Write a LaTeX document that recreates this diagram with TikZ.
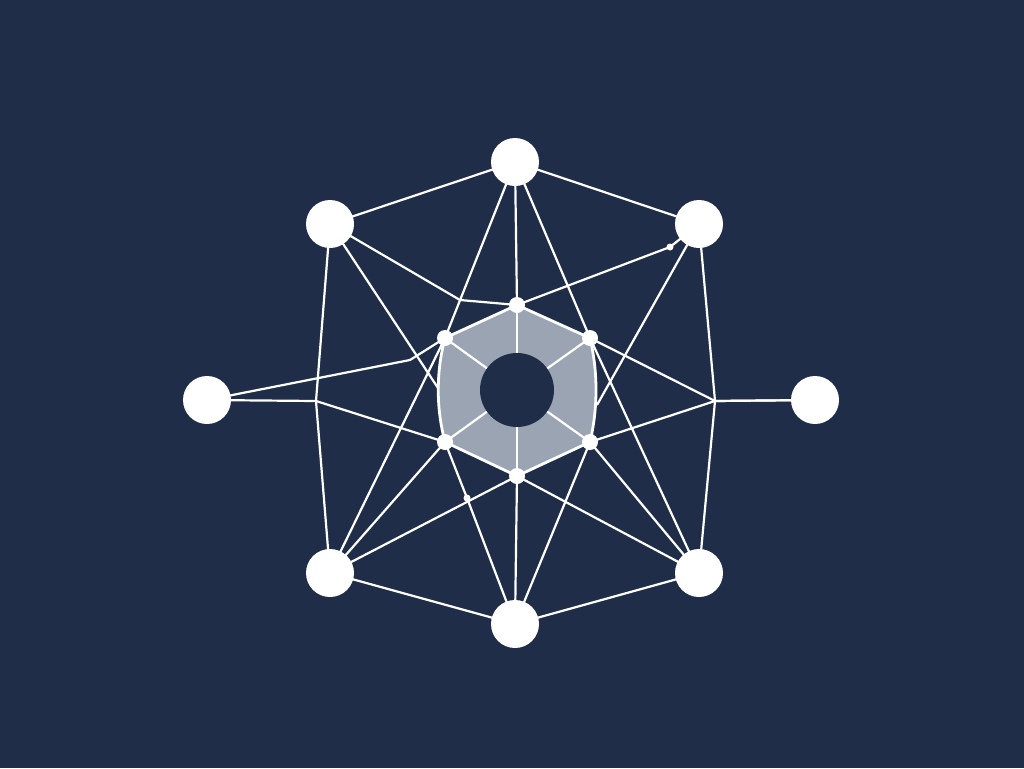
\documentclass[tikz,border=0pt]{standalone}
\begin{document}
\begin{tikzpicture}[x=1pt,y=-1pt,
  edge/.style={draw=white,line width=2.2pt,line join=round},
  outer/.style={circle,fill=white,minimum size=48pt,inner sep=0pt},
  hexdot/.style={circle,fill=white,minimum size=16pt,inner sep=0pt},
  tinydot/.style={circle,fill=white,minimum size=7pt,inner sep=0pt}]
\definecolor{bg}{HTML}{1F2D48}
\definecolor{hexfill}{HTML}{9AA4B2}
\fill[bg] (0,0) rectangle (1024,768);
\useasboundingbox (0,0) rectangle (1024,768);
% coordinates
\coordinate (cT) at (515,162);
\coordinate (cTL) at (330,224);
\coordinate (cTR) at (699,224);
\coordinate (cL) at (207,400);
\coordinate (cR) at (815,400);
\coordinate (cBL) at (330,573);
\coordinate (cBR) at (699,573);
\coordinate (cB) at (515,624);
\coordinate (c1) at (517,305);
\coordinate (c2) at (590,338);
\coordinate (c3) at (590,442);
\coordinate (c4) at (517,476);
\coordinate (c5) at (445,442);
\coordinate (c6) at (445,338);
\coordinate (ctr) at (517,390);
\coordinate (jL) at (316,401);
\coordinate (jR) at (715,401);
\coordinate (bTL) at (460,300);
\coordinate (bL) at (410,360);
\coordinate (eTL) at (438,388);
\coordinate (eTR) at (597,405);
\coordinate (cd1) at (670,247);
\coordinate (cd2) at (467,498);
% edges
\draw[edge] (cT) -- (cTL);
\draw[edge] (cT) -- (cTR);
\draw[edge] (cTL) -- (jL) -- (cBL);
\draw[edge] (cTR) -- (jR) -- (cBR);
\draw[edge] (cBL) -- (cB);
\draw[edge] (cBR) -- (cB);
\draw[edge] (cL) -- (jL) -- (c5);
\draw[edge] (cL) -- (bL) -- (c6);
\draw[edge] (cR) -- (jR) -- (c3);
\draw[edge] (cR) -- (jR) -- (c2);
\draw[edge] (cT) -- (c1);
\draw[edge] (cT) -- (c6);
\draw[edge] (cT) -- (c2);
\draw[edge] (cTL) -- (bTL) -- (c1);
\draw[edge] (cTR) -- (cd1) -- (c1);
\draw[edge] (cTL) -- (eTL);
\draw[edge] (cTR) -- (eTR);
\draw[edge] (cBL) -- (c6);
\draw[edge] (cBL) -- (c5);
\draw[edge] (cBL) -- (c4);
\draw[edge] (cBR) -- (c2);
\draw[edge] (cBR) -- (c3);
\draw[edge] (cBR) -- (c4);
\draw[edge] (cB) -- (cd2) -- (c5);
\draw[edge] (cB) -- (c4);
\draw[edge] (cB) -- (c3);
% hexagon
\filldraw[fill=hexfill,draw=white,line width=2.8pt,line join=round]
  (c1) -- (c2) .. controls (598,372) and (598,408) .. (c3) -- (c4) -- (c5)
  .. controls (436,408) and (436,372) .. (c6) -- cycle;
\foreach \v in {c1,c2,c3,c4,c5,c6}{\draw[edge] (\v) -- (ctr);}
\node[circle,fill=bg,minimum size=74pt,inner sep=0pt] (hole) at (ctr) {};
% nodes
\node[outer] (T) at (cT) {};
\node[outer] (TL) at (cTL) {};
\node[outer] (TR) at (cTR) {};
\node[outer] (L) at (cL) {};
\node[outer] (R) at (cR) {};
\node[outer] (BL) at (cBL) {};
\node[outer] (BR) at (cBR) {};
\node[outer] (B) at (cB) {};
\node[hexdot] (h1) at (c1) {};
\node[hexdot] (h2) at (c2) {};
\node[hexdot] (h3) at (c3) {};
\node[hexdot] (h4) at (c4) {};
\node[hexdot] (h5) at (c5) {};
\node[hexdot] (h6) at (c6) {};
\node[tinydot] (d1) at (cd1) {};
\node[tinydot] (d2) at (cd2) {};
\end{tikzpicture}
\end{document}
